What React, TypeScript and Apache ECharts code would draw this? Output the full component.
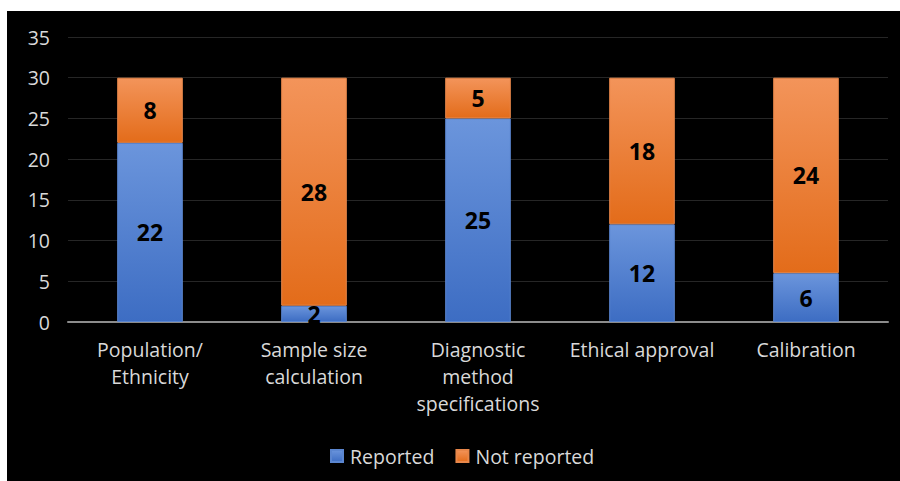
import React, { useEffect, useRef } from "react";
import * as echarts from "echarts";

const categories = [
  "Population/\nEthnicity",
  "Sample size\ncalculation",
  "Diagnostic\nmethod\nspecifications",
  "Ethical approval",
  "Calibration",
];
const reported = [22, 2, 25, 12, 6];
const notReported = [8, 28, 5, 18, 24];
const yTicks = { min: 0, max: 35, interval: 5 };

const font = "'Open Sans', 'Noto Sans', sans-serif";

const blueFill = new echarts.graphic.LinearGradient(0, 0, 0, 1, [
  { offset: 0, color: "#6b95dc" },
  { offset: 1, color: "#3d6dc3" },
]);
const orangeFill = new echarts.graphic.LinearGradient(0, 0, 0, 1, [
  { offset: 0, color: "#f3945a" },
  { offset: 1, color: "#e36c1a" },
]);

export default function App() {
  const ref = useRef<HTMLDivElement>(null);

  useEffect(() => {
    if (!ref.current) return;
    const chart = echarts.init(ref.current, undefined, { renderer: "svg" });
    const label = {
      show: true,
      position: "inside" as const,
      color: "#000000",
      fontSize: 23,
      fontWeight: "bold" as const,
      fontFamily: font,
    };
    chart.setOption({
      animation: false,
      backgroundColor: "#000000",
      grid: { left: 61, right: 12, top: 26, bottom: 159 },
      legend: {
        data: ["Reported", "Not reported"],
        bottom: 10,
        left: 318,
        itemWidth: 12,
        itemHeight: 12,
        itemGap: 21,
        icon: "rect",
        textStyle: { color: "#d9d9d9", fontSize: 19.5, fontFamily: font, padding: [0, 0, 0, 2] },
      },
      xAxis: {
        type: "category",
        data: categories,
        axisLine: { lineStyle: { color: "#8c8c8c", width: 2 } },
        axisTick: { show: false },
        axisLabel: {
          color: "#d9d9d9",
          fontSize: 19.5,
          fontFamily: font,
          lineHeight: 27,
          margin: 14,
          interval: 0,
          verticalAlign: "top",
        },
      },
      yAxis: {
        type: "value",
        min: yTicks.min,
        max: yTicks.max,
        interval: yTicks.interval,
        axisLine: { show: false },
        axisTick: { show: false },
        splitLine: { lineStyle: { color: "#262626", width: 1 } },
        axisLabel: { color: "#d9d9d9", fontSize: 19.5, fontFamily: font, margin: 18 },
      },
      series: [
        {
          name: "Reported",
          type: "bar",
          stack: "total",
          barWidth: "40%",
          data: reported,
          itemStyle: { color: blueFill, borderColor: "#5b86d0", borderWidth: 1 },
          label,
        },
        {
          name: "Not reported",
          type: "bar",
          stack: "total",
          barWidth: "40%",
          data: notReported,
          itemStyle: { color: orangeFill, borderColor: "#e8874a", borderWidth: 1 },
          label,
        },
      ],
    });
    return () => chart.dispose();
  }, []);

  return (
    <div
      style={{
        position: "fixed",
        left: 0,
        top: 0,
        width: 900,
        height: 481,
        background: "#ffffff",
      }}
    >
      <div
        ref={ref}
        style={{ position: "absolute", left: 7, top: 11, width: 893, height: 470 }}
      />
    </div>
  );
}
